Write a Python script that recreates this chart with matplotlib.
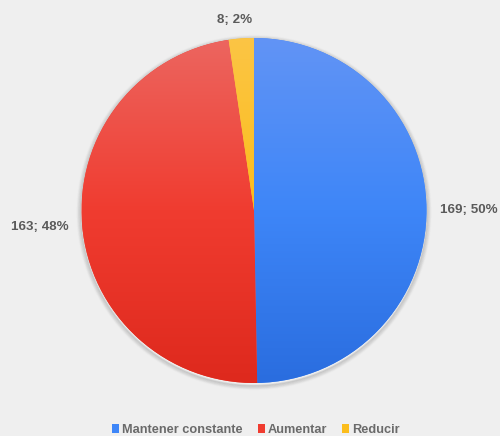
import numpy as np
import matplotlib
matplotlib.use("Agg")
import matplotlib.pyplot as plt
from matplotlib.patches import Circle, Rectangle
from matplotlib.colors import LinearSegmentedColormap

categories = ["Mantener constante", "Aumentar", "Reducir"]
values = [169, 163, 8]

# top / middle / bottom shades for each slice's vertical gradient
top_colors = ["#6294f5", "#ec6660", "#fcc545"]
mid_colors = ["#3e86f8", "#f03c30", "#fbbd1c"]
bottom_colors = ["#2a6ddf", "#de291d", "#f2b000"]

W, H = 500, 436
fig = plt.figure(figsize=(W / 100, H / 100), dpi=100)
fig.patch.set_facecolor("#efefef")
ax = fig.add_axes([0, 0, 1, 1])

cx, cy, r = 254, H - 210.5, 172.5

# soft drop shadow under the pie
for k in range(8):
    ax.add_patch(Circle((cx, cy - 2.0), r + 0.3 + k * 0.6, facecolor="none",
                        edgecolor=(0, 0, 0, 0.07 * (1 - k / 8)), lw=1.2, zorder=1))

wedges, _ = ax.pie(values, center=(cx, cy), radius=r, startangle=90,
                   counterclock=False, colors=mid_colors,
                   wedgeprops=dict(linewidth=0), frame=True)
ax.set_xlim(0, W)
ax.set_ylim(0, H)
ax.set_aspect("equal")
ax.axis("off")

grad = np.linspace(1, 0, 256).reshape(-1, 1)
for w, c0, c1, c2 in zip(wedges, top_colors, mid_colors, bottom_colors):
    w.set_zorder(2)
    cmap = LinearSegmentedColormap.from_list("g", [(0, c2), (0.5, c1), (1, c0)])
    im = ax.imshow(grad, cmap=cmap, aspect="auto",
                   extent=(cx - r, cx + r, cy - r, cy + r), zorder=3,
                   interpolation="bilinear", origin="upper")
    im.set_clip_path(w)

total = sum(values)
labels = [f"{v}; {round(100 * v / total)}%" for v in values]
font = dict(family="Liberation Sans", fontweight="bold", fontsize=9.6, color="#5a5a5a")
ax.text(440, H - 210, labels[0], ha="left", va="center", **font)
ax.text(69, H - 227, labels[1], ha="right", va="center", **font)
ax.text(234.5, H - 20, labels[2], ha="center", va="center", **font)

# legend along the bottom edge
handles = [Rectangle((0, 0), 1, 1, facecolor=c, edgecolor="none") for c in mid_colors]
leg = ax.legend(handles, categories, loc="center", bbox_to_anchor=(256 / W, 1 - 430 / H),
                ncol=3, frameon=False, handlelength=0.55, handleheight=0.6,
                handletextpad=0.25, columnspacing=1.15, borderpad=0,
                prop=dict(family="Liberation Sans", weight="bold", size=9.2))
for t in leg.get_texts():
    t.set_color("#6a6a6a")

fig.savefig("out.png", dpi=100, facecolor=fig.get_facecolor())
